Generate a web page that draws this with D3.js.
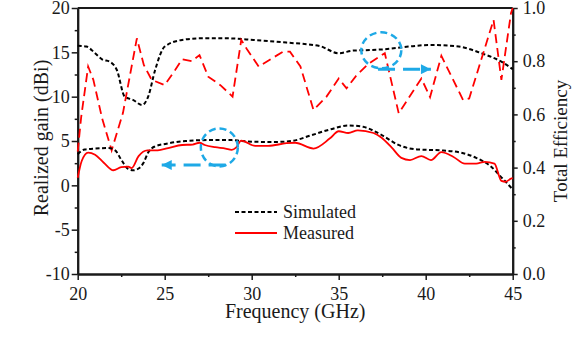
<!DOCTYPE html>
<html>
<head>
<meta charset="utf-8">
<script src="https://cdn.jsdelivr.net/npm/d3@7"></script>
<style>
  body { margin: 0; background: #fff; }
  svg { display: block; font-family: "Liberation Serif", "Times New Roman", serif; }
  svg text { font-family: "Liberation Serif", "Times New Roman", serif !important; }
</style>
</head>
<body>
<svg id="chart" width="572" height="340"></svg>
<script>
// frequency (GHz) vs realized gain (dBi)
const simGain = [[20,3.5],[20.4,4.05],[21,4.15],[21.75,4.2],[22.15,3.95],[22.5,2.9],[22.9,1.85],[23.2,1.7],[23.5,1.9],[23.8,2.6],[24.05,3.7],[24.4,4.35],[25.1,4.7],[26.2,5.0],[27.5,5.1],[28.85,5.1],[29.4,5.0],[30.6,4.9],[31.5,4.9],[32.3,5.0],[33.35,5.6],[34.5,6.3],[35.55,6.75],[36.4,6.6],[37.4,5.75],[38.5,4.5],[39.5,4.05],[40.8,3.95],[42.0,3.7],[42.9,3.1],[43.7,2.2],[44.45,0.7],[45,-0.45]];
const measGain = [[20,0.85],[20.23,2.75],[20.6,3.7],[21.0,3.45],[21.5,2.55],[22.05,1.7],[22.5,2.05],[22.9,2.1],[23.1,1.95],[23.5,3.3],[24.0,3.95],[24.6,3.95],[25.2,4.2],[26.0,4.55],[26.6,4.6],[27.0,4.8],[27.3,4.55],[27.9,4.3],[28.5,4.15],[28.85,4.0],[29.1,4.25],[29.4,5.05],[30.2,4.45],[30.95,4.45],[32.0,4.75],[32.5,4.8],[33.55,4.15],[34.5,5.3],[35.0,6.1],[35.55,5.9],[36.1,6.2],[37.0,5.9],[37.45,5.4],[38.05,4.25],[38.6,3.1],[39.1,2.85],[39.75,3.3],[40.3,2.85],[40.9,3.75],[41.6,3.2],[42.25,2.45],[42.9,2.45],[43.4,2.65],[43.95,2.45],[44.35,0.5],[44.6,0.4],[44.9,0.75],[45,0.8]];

// frequency (GHz) vs total efficiency
const simEff = [[20,0.858],[20.5,0.855],[21.0,0.83],[21.4,0.807],[21.85,0.798],[22.25,0.767],[22.7,0.667],[23.2,0.654],[23.7,0.635],[24.05,0.667],[24.45,0.767],[25.0,0.855],[26.0,0.88],[27.1,0.886],[28.5,0.886],[30.1,0.88],[32.0,0.87],[33.9,0.857],[35.0,0.83],[35.85,0.84],[36.8,0.842],[37.65,0.845],[39.0,0.855],[40.3,0.861],[41.9,0.855],[43.2,0.83],[44.35,0.798],[45,0.77]];
const measEff = [[20,0.46],[20.2,0.59],[20.6,0.78],[20.9,0.73],[21.4,0.586],[21.95,0.465],[22.6,0.605],[23.4,0.886],[23.8,0.786],[24.25,0.73],[25.0,0.71],[25.6,0.767],[26.0,0.807],[26.55,0.8],[27.0,0.823],[27.5,0.742],[28.2,0.71],[28.9,0.667],[29.4,0.88],[29.7,0.848],[30.4,0.78],[31.8,0.836],[32.2,0.836],[32.8,0.78],[33.55,0.617],[34.3,0.667],[35.0,0.735],[35.45,0.698],[36.0,0.745],[36.7,0.79],[37.65,0.83],[38.45,0.604],[39.75,0.735],[40.25,0.665],[40.9,0.82],[42.15,0.654],[42.5,0.66],[43.9,0.955],[44.35,0.73],[44.9,0.98],[45,1.0]];

const xTicks = [20, 25, 30, 35, 40, 45];
const gainTicks = [-10, -5, 0, 5, 10, 15, 20];
const effTicks = [0, 0.2, 0.4, 0.6, 0.8, 1.0];
const legendItems = ["Simulated", "Measured"];

// annotations: circle centre (GHz, value) and arrow start/end
const gainMark = { f: 28.14, v: 4.28, arrowFrom: 28.5, arrowTo: 24.83, arrowV: 2.29 };
const effMark = { f: 37.45, v: 0.841, arrowFrom: 37.26, arrowTo: 40.3, arrowV: 0.77 };

const margin = { top: 8, left: 77.7 };
const width = 435, height = 266;
const blue = "#1ea9e6";
const ink = "#1a1a1a";

const svg = d3.select("#chart");
const g = svg.append("g").attr("transform", `translate(${margin.left},${margin.top})`);

const x = d3.scaleLinear().domain([20, 45]).range([0, width]);
const yL = d3.scaleLinear().domain([-10, 20]).range([height, 0]);
const yR = d3.scaleLinear().domain([0, 1]).range([height, 0]);

const minor = (a, b, step) => d3.range(a, b + 1e-9, step);

// axes
function styleAxis(sel) {
  sel.attr("font-family", null).attr("font-size", null);
  sel.select(".domain").attr("stroke", ink).attr("stroke-width", 2);
  sel.selectAll(".tick line").attr("stroke", ink).attr("stroke-width", 1.5);
  sel.selectAll(".tick text").attr("fill", ink).style("font-size", "18px");
}

g.append("g").attr("transform", `translate(0,${height})`)
  .call(d3.axisBottom(x).tickValues(minor(22.5, 42.5, 5)).tickSize(3).tickSizeOuter(0).tickFormat(""))
  .call(styleAxis);
g.append("g").attr("transform", `translate(0,${height})`)
  .call(d3.axisBottom(x).tickValues(xTicks).tickSize(6).tickPadding(7).tickSizeOuter(0).tickFormat(d => String(d)))
  .call(styleAxis);

g.append("g")
  .call(d3.axisLeft(yL).tickValues(minor(-7.5, 17.5, 5)).tickSize(3).tickSizeOuter(0).tickFormat(""))
  .call(styleAxis);
g.append("g")
  .call(d3.axisLeft(yL).tickValues(gainTicks).tickSize(6).tickPadding(2).tickSizeOuter(0).tickFormat(d => String(d)))
  .call(styleAxis);

g.append("g").attr("transform", `translate(${width},0)`)
  .call(d3.axisRight(yR).tickValues(minor(0.1, 0.9, 0.2)).tickSize(3).tickSizeOuter(0).tickFormat(""))
  .call(styleAxis);
g.append("g").attr("transform", `translate(${width},0)`)
  .call(d3.axisRight(yR).tickValues(effTicks).tickSize(5).tickPadding(5).tickSizeOuter(0).tickFormat(d3.format(".1f")))
  .call(styleAxis);

// top frame line
g.append("line").attr("x1", 0).attr("x2", width).attr("y1", 0).attr("y2", 0)
  .attr("stroke", ink).attr("stroke-width", 2);

// axis titles
svg.append("text").attr("x", margin.left + width / 2).attr("y", 318)
  .attr("text-anchor", "middle").style("font-size", "20px").attr("fill", ink)
  .text("Frequency (GHz)");
svg.append("text").attr("transform", "translate(48,138) rotate(-90)")
  .attr("text-anchor", "middle").style("font-size", "20px").attr("fill", ink)
  .text("Realized gain (dBi)");
svg.append("text").attr("transform", "translate(567,141) rotate(-90)")
  .attr("text-anchor", "middle").style("font-size", "19px").attr("fill", ink)
  .text("Total Efficiency");

// curves
const gainLine = d3.line().x(d => x(d[0])).y(d => yL(d[1]));
const effLine = d3.line().x(d => x(d[0])).y(d => yR(d[1]));

g.append("path").datum(simEff).attr("fill", "none").attr("stroke", "#000")
  .attr("stroke-width", 2).attr("stroke-dasharray", "4,2.5")
  .attr("d", effLine.curve(d3.curveMonotoneX));
g.append("path").datum(measEff).attr("fill", "none").attr("stroke", "#ff0000")
  .attr("stroke-width", 1.8).attr("stroke-dasharray", "9,5")
  .attr("d", effLine.curve(d3.curveLinear));
g.append("path").datum(simGain).attr("fill", "none").attr("stroke", "#000")
  .attr("stroke-width", 2).attr("stroke-dasharray", "4,2.5")
  .attr("d", gainLine.curve(d3.curveMonotoneX));
g.append("path").datum(measGain).attr("fill", "none").attr("stroke", "#ff0000")
  .attr("stroke-width", 1.8)
  .attr("d", gainLine.curve(d3.curveMonotoneX));

// blue circles and arrows
svg.append("defs").append("marker")
  .attr("id", "arrow").attr("viewBox", "0 0 10 10").attr("refX", 10).attr("refY", 5)
  .attr("markerUnits", "userSpaceOnUse").attr("markerWidth", 12).attr("markerHeight", 10)
  .attr("orient", "auto")
  .append("path").attr("d", "M0,0L10,5L0,10Z").attr("fill", blue);

function annotate(m, yScale, rx, ry) {
  g.append("ellipse").attr("cx", x(m.f)).attr("cy", yScale(m.v)).attr("rx", rx).attr("ry", ry)
    .attr("fill", "none").attr("stroke", blue).attr("stroke-width", 2.5).attr("stroke-dasharray", "7,4");
  g.append("line").attr("x1", x(m.arrowFrom)).attr("x2", x(m.arrowTo))
    .attr("y1", yScale(m.arrowV)).attr("y2", yScale(m.arrowV))
    .attr("stroke", blue).attr("stroke-width", 3).attr("stroke-dasharray", "17,8")
    .attr("marker-end", "url(#arrow)");
}
annotate(gainMark, yL, 18.5, 19);
annotate(effMark, yR, 20, 18);

// legend
const legend = g.append("g").attr("transform", `translate(${235 - margin.left},${212 - margin.top})`);
legendItems.forEach((name, i) => {
  const row = legend.append("g").attr("transform", `translate(0,${i * 21})`);
  row.append("line").attr("x1", 0).attr("x2", 42).attr("y1", 0).attr("y2", 0)
    .attr("stroke", i === 0 ? "#000" : "#ff0000").attr("stroke-width", i === 0 ? 2 : 1.8)
    .attr("stroke-dasharray", i === 0 ? "4,2.5" : null);
  row.append("text").attr("x", 48).attr("y", 0).attr("dy", "0.32em")
    .style("font-size", "18px").attr("fill", ink).text(name);
});
</script>
</body>
</html>
